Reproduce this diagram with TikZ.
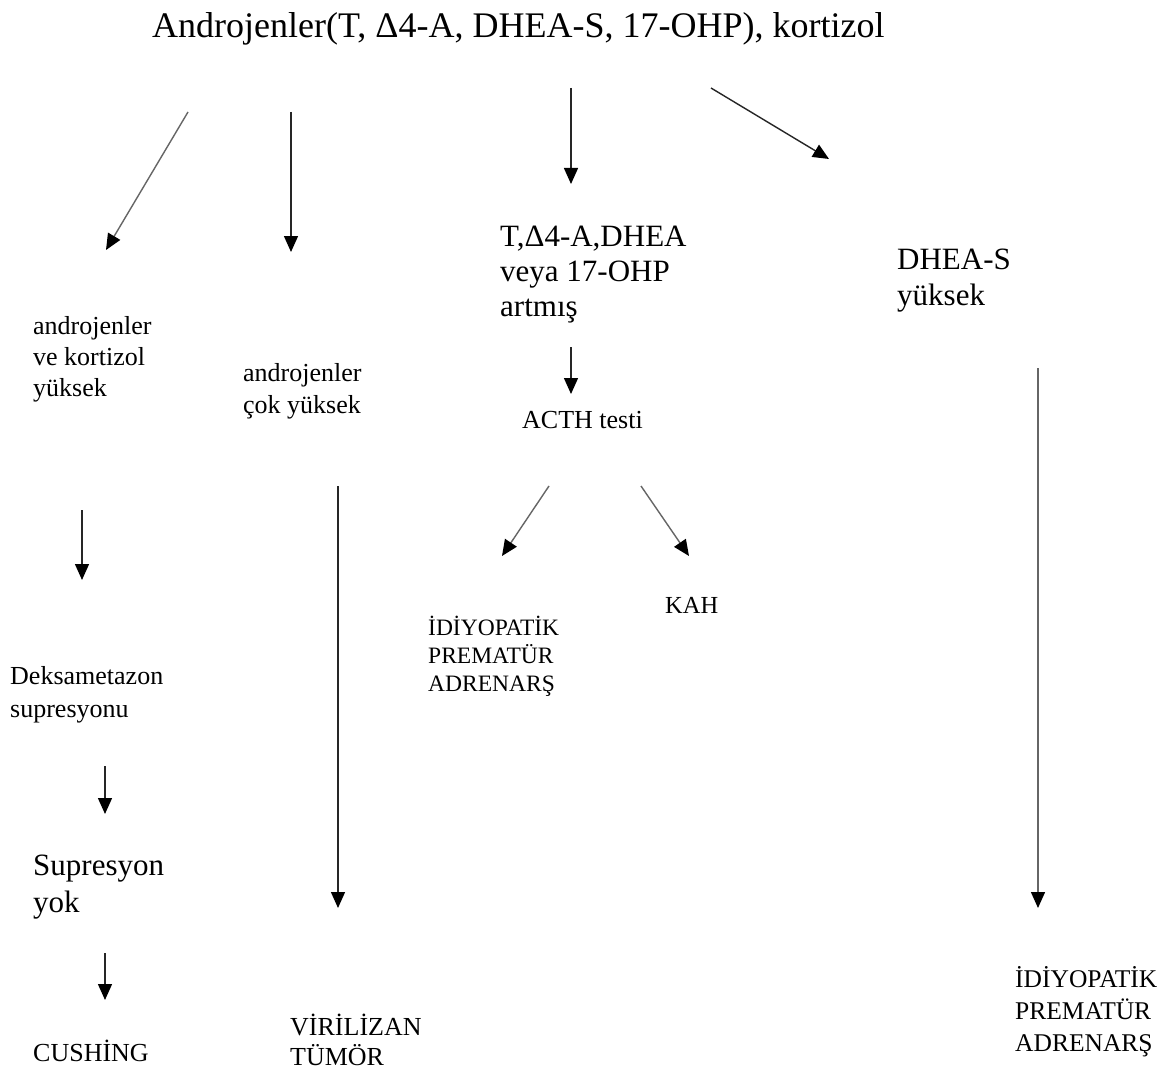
\documentclass[tikz,border=0pt]{standalone}
\usepackage{fontspec}
\setmainfont{Liberation Serif}
\usetikzlibrary{arrows.meta}

\tikzset{
  lbl/.style={anchor=north west, inner sep=0pt, align=left},
  big/.style={font=\fontsize{36}{40}\selectfont},
  mid/.style={font=\fontsize{31}{36}\selectfont},
  sml/.style={font=\fontsize{26}{31}\selectfont},
  flow/.style={draw=black!85, line width=1.4pt, -{Triangle[length=16pt, width=14pt, color=black]}},
  pale/.style={flow, draw=black!60},
}

\begin{document}
\begin{tikzpicture}[x=1pt, y=-1pt]
    \useasboundingbox[fill=white] (0,0) rectangle (1173,1070);

    % Top
    \node[lbl, big] (hormon) at (152,12) {Androjenler(T, Δ4-A, DHEA-S, 17-OHP), kortizol};

    % Branch 1: androjenler ve kortizol
    \node[lbl, sml] (bothHigh) at (33,316) {androjenler\\ve kortizol\\yüksek};
    \node[lbl, sml, font=\fontsize{26}{33}\selectfont] (dexa) at (10,666) {Deksametazon\\supresyonu};
    \node[lbl, mid, font=\fontsize{31}{37}\selectfont] (noSup) at (33,855) {Supresyon\\yok};
    \node[lbl, sml] (cushing) at (33,1040) {CUSHİNG};
    \coordinate (b1a) at (188,112);  \coordinate (b1b) at (106,250);
    \coordinate (b1c) at (82,510);   \coordinate (b1d) at (82,580);
    \coordinate (b1e) at (105,766);  \coordinate (b1f) at (105,814);
    \coordinate (b1g) at (105,953);  \coordinate (b1h) at (105,1000);
    \draw[pale] (b1a) -- (b1b);
    \draw[flow] (b1c) -- (b1d);
    \draw[flow] (b1e) -- (b1f);
    \draw[flow] (b1g) -- (b1h);

    % Branch 2: androjenler cok yuksek
    \node[lbl, sml, font=\fontsize{26}{32}\selectfont] (veryHigh) at (243,363) {androjenler\\çok yüksek};
    \node[lbl, sml, font=\fontsize{26}{30}\selectfont] (tumor) at (290,1014) {VİRİLİZAN\\TÜMÖR};
    \coordinate (b2a) at (291,112);  \coordinate (b2b) at (291,252);
    \coordinate (b2c) at (338,486);  \coordinate (b2d) at (338,908);
    \draw[flow] (b2a) -- (b2b);
    \draw[flow] (b2c) -- (b2d);

    % Branch 3: T, D4-A, DHEA veya 17-OHP
    \node[lbl, mid, font=\fontsize{31}{35}\selectfont] (raised) at (500,226) {T,Δ4-A,DHEA\\veya 17-OHP\\artmış};
    \node[lbl, sml] (acth) at (522,411) {ACTH testi};
    \node[lbl, font=\fontsize{23.5}{28}\selectfont] (ipa) at (428,616) {İDİYOPATİK\\PREMATÜR\\ADRENARŞ};
    \node[lbl, font=\fontsize{24.5}{28}\selectfont] (kah) at (665,597) {KAH};
    \coordinate (b3a) at (571,88);   \coordinate (b3b) at (571,184);
    \coordinate (b3c) at (571,347);  \coordinate (b3d) at (571,394);
    \coordinate (b3e) at (549,486);  \coordinate (b3f) at (502,556);
    \coordinate (b3g) at (641,486);  \coordinate (b3h) at (689,556);
    \draw[flow] (b3a) -- (b3b);
    \draw[flow] (b3c) -- (b3d);
    \draw[pale] (b3e) -- (b3f);
    \draw[pale] (b3g) -- (b3h);

    % Branch 4: DHEA-S yuksek
    \node[lbl, mid] (dheas) at (897,249) {DHEA-S\\yüksek};
    \node[lbl, font=\fontsize{25.5}{32}\selectfont] (ipaR) at (1015,966) {İDİYOPATİK\\PREMATÜR\\ADRENARŞ};
    \coordinate (b4a) at (711,88);   \coordinate (b4b) at (829,159);
    \coordinate (b4c) at (1038,368); \coordinate (b4d) at (1038,908);
    \draw[flow] (b4a) -- (b4b);
    \draw[pale] (b4c) -- (b4d);
\end{tikzpicture}
\end{document}
